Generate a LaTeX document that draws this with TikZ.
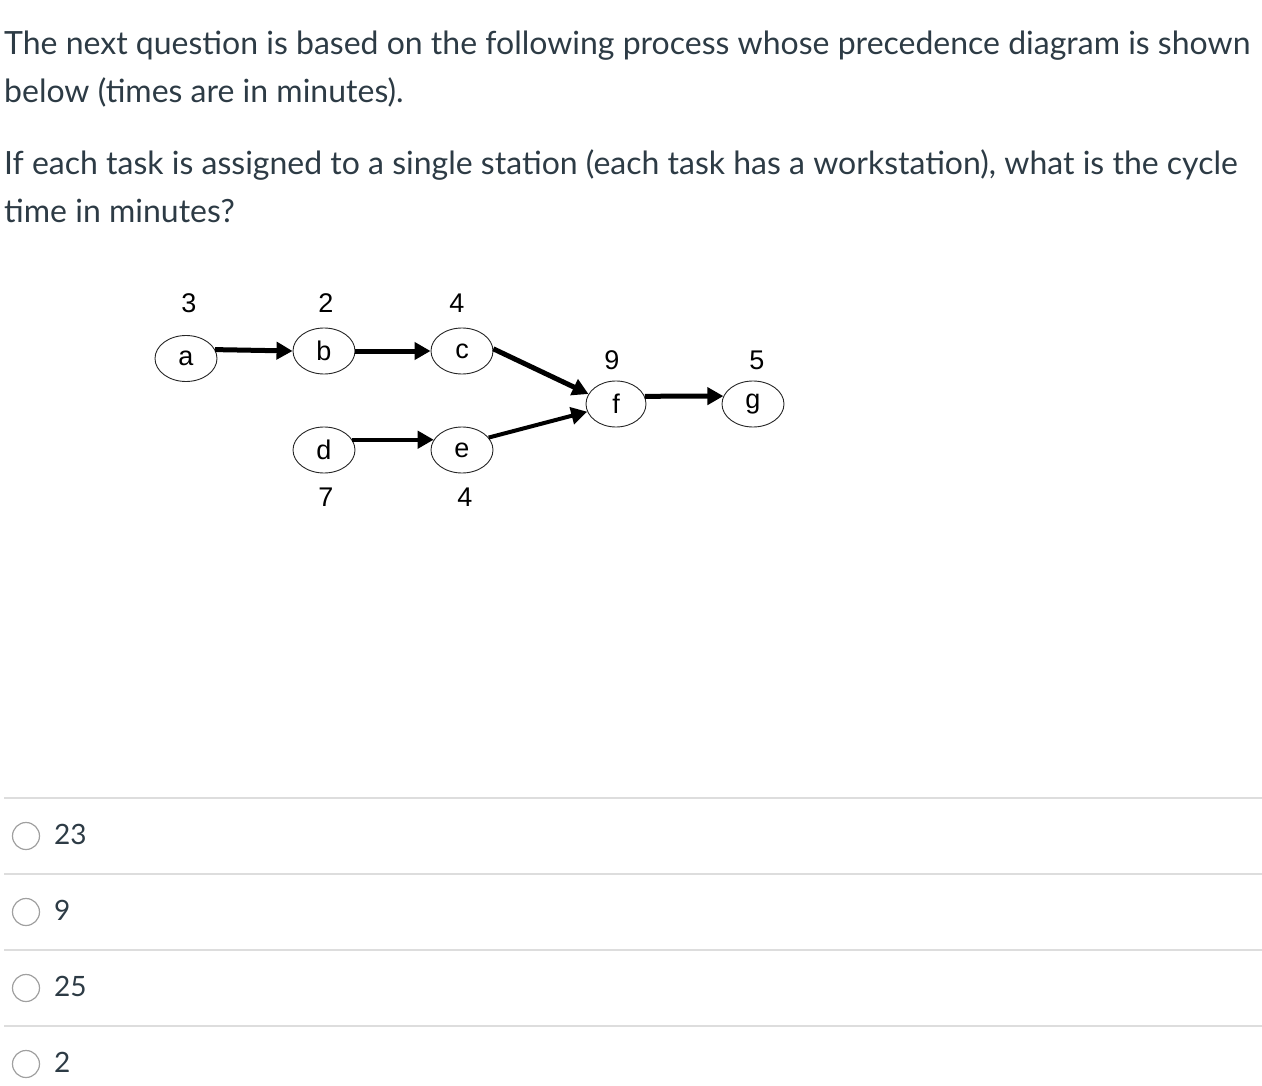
\documentclass[tikz,border=0pt]{standalone}
\usepackage{fontspec}
\setmainfont{Lato}
\newfontfamily\diagfont{Liberation Sans}
\usetikzlibrary{shapes.geometric,arrows.meta}
\definecolor{canvastext}{HTML}{2D3B45}
\definecolor{sepgray}{HTML}{DDDDDD}
\definecolor{radiogray}{HTML}{A0A0A0}
\tikzset{
  qtext/.style={anchor=base west,inner sep=0pt,text=canvastext,font=\fontsize{32}{48}\selectfont},
  anstext/.style={anchor=west,inner sep=0pt,text=canvastext,font=\fontsize{28}{34}\selectfont},
  task/.style={ellipse,draw=black!85,line width=0.9pt,minimum width=62pt,minimum height=46pt,inner sep=0pt,font=\diagfont\fontsize{27}{30}\selectfont},
  timelbl/.style={inner sep=0pt,font=\diagfont\fontsize{27}{30}\selectfont},
  arr/.style={line width=5pt,-{Triangle[length=16pt,width=17pt]}},
  arrthin/.style={line width=4pt,-{Triangle[length=16pt,width=17pt]}},
  sep/.style={draw=sepgray,line width=2pt},
  radio/.style={circle,draw=radiogray,line width=1.2pt,fill=white,minimum size=27pt,inner sep=0pt},
}
\begin{document}
\begin{tikzpicture}[x=1pt,y=-1pt]
\useasboundingbox (0,0) rectangle (1262,1086);
% question text
\node[qtext] (q1) at (4,55) {The next question is based on the following process whose precedence diagram is shown};
\node[qtext] (q2) at (4,103) {below (times are in minutes).};
\node[qtext] (q3) at (4,175) {If each task is assigned to a single station (each task has a workstation), what is the cycle};
\node[qtext] (q4) at (4,223) {time in minutes?};
% diagram
\node[task] (a) at (186,358.5) {a};
\node[task] (b) at (324,351) {b};
\node[task] (c) at (462,351) {c};
\node[task] (d) at (324,450) {d};
\node[task] (e) at (462,450) {e};
\node[task,minimum width=60pt] (f) at (616,404) {f};
\node[task] (g) at (753,404) {g};
\node[timelbl] (ta) at (189,303) {3};
\node[timelbl] (tb) at (326,303) {2};
\node[timelbl] (tc) at (457,303) {4};
\node[timelbl] (td) at (326,497) {7};
\node[timelbl] (te) at (465,497) {4};
\node[timelbl] (tf) at (612,360) {9};
\node[timelbl] (tg) at (757,360) {5};
\draw[arr] (a.17) -- (b.west);
\draw[arr] (b.east) -- (c.west);
\draw[arrthin] (d.20) -- (e.160);
\draw[arr] (c.4) -- (f.160);
\draw[arrthin] (e.25) -- (f.195);
\draw[arr] (f.15) -- (g.165);
% answers
\draw[sep] (4,798) coordinate (s1a) -- (1262,798) coordinate (s1b);
\draw[sep] (4,874) coordinate (s2a) -- (1262,874) coordinate (s2b);
\draw[sep] (4,950) coordinate (s3a) -- (1262,950) coordinate (s3b);
\draw[sep] (4,1026) coordinate (s4a) -- (1262,1026) coordinate (s4b);
\node[radio] (r1) at (26,836) {};
\node[radio] (r2) at (26,912) {};
\node[radio] (r3) at (26,988) {};
\node[radio] (r4) at (26,1064) {};
\node[anstext] (a1) at (54,834) {23};
\node[anstext] (a2) at (54,910) {9};
\node[anstext] (a3) at (54,986) {25};
\node[anstext] (a4) at (54,1062) {2};
\end{tikzpicture}
\end{document}
